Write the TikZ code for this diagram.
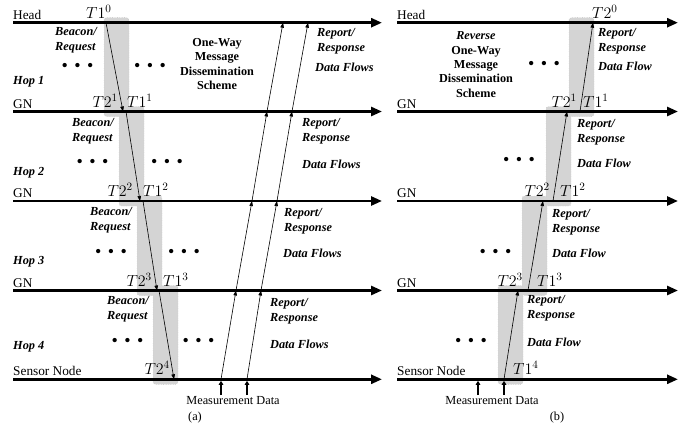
\documentclass[tikz,border=0pt]{standalone}
\usepackage{fix-cm}
\usepackage{fontspec}
\setmainfont{Liberation Serif}
\usetikzlibrary{arrows.meta}

\begin{document}
\begin{tikzpicture}[
  x=1pt, y=-1pt,
  timeline/.style={line width=2.6pt, -{Triangle[length=11pt,width=9pt]}},
  flow/.style={line width=0.6pt, -{Triangle[length=5pt,width=3.6pt]}},
  measure/.style={line width=1.5pt, shorten >=1.5pt, -{Triangle[length=4pt,width=4.5pt]}},
  window/.style={fill=black!17, draw=black!35, dotted, rounded corners=2.5pt},
  axislabel/.style={font=\fontsize{13.3}{15}\selectfont, inner sep=0pt, anchor=base west},
  caption/.style={font=\fontsize{12.3}{14}\selectfont, inner sep=0pt, anchor=base},
  msg/.style={font=\fontsize{12.3}{15}\selectfont\bfseries\itshape, align=left, inner sep=0pt, anchor=west},
  hop/.style={font=\fontsize{12.3}{15}\selectfont\bfseries\itshape, inner sep=0pt, anchor=west},
  scheme/.style={font=\fontsize{12.2}{14.3}\selectfont\bfseries, align=center, inner sep=0pt},
  stamp/.style={font=\fontsize{16}{16}\selectfont, inner sep=0pt},
  dots/.style={font=\fontsize{18}{18}\selectfont, inner sep=0pt}
]
\useasboundingbox (0,0) rectangle (699,428);

% shaded time windows, one per hop
\foreach \xa/\ya/\yb in {104/22.7/111.5, 119/111.5/201, 137/201/290.5, 153/290.5/379.3,
                         569/22.7/111.5, 546/111.5/201, 522/201/290.5, 498/290.5/379.3}
  \draw[window] (\xa,\ya-5) rectangle ++(25,\yb-\ya+10);
\foreach \xa/\ya/\yb in {104/22.7/111.5, 119/111.5/201, 137/201/290.5, 153/290.5/379.3,
                         569/22.7/111.5, 546/111.5/201, 522/201/290.5, 498/290.5/379.3}
  \fill[black!17, rounded corners=2.5pt] (\xa+0.4,\ya-4.6) rectangle ++(24.2,\yb-\ya+9.2);

% time lines
\foreach \i/\y/\name in {0/22.7/Head, 1/111.5/GN, 2/201/GN, 3/290.5/GN, 4/379.3/Sensor Node} {
  \coordinate (al\i) at (13,\y);
  \coordinate (ar\i) at (382,\y);
  \coordinate (bl\i) at (397,\y);
  \coordinate (br\i) at (678,\y);
  \draw[timeline] (al\i) -- (ar\i);
  \draw[timeline] (bl\i) -- (br\i);
  \node[axislabel] (aname\i) at (13,\y-3.5) {\name};
  \node[axislabel] (bname\i) at (397,\y-3.5) {\name};
}

% (a) beacon/request, head down to sensor node
\foreach \k/\ya/\yb/\xs/\xe in {1/22.7/111.5/106/123, 2/111.5/201/126/140,
                                3/201/290.5/143/157, 4/290.5/379.3/159/174} {
  \coordinate (reqs\k) at (\xs,\ya);
  \coordinate (reqe\k) at (\xe,\yb);
  \draw[flow] (reqs\k) -- (reqe\k);
}

% (a) report/response, sensor node up to head
\foreach \i/\y/\xa/\xb in {0/22.7/283/308, 1/111.5/267/292, 2/201/252/277,
                           3/290.5/236/261, 4/379.3/221/247} {
  \coordinate (fa\i) at (\xa,\y);
  \coordinate (fb\i) at (\xb,\y);
}
\foreach \i in {1,...,4} {
  \pgfmathtruncatemacro\j{\i-1}
  \draw[flow] (fa\i) -- (fa\j);
  \draw[flow] (fb\i) -- (fb\j);
}

% (b) reverse scheme
\foreach \k/\ya/\yb/\xs/\xe in {4/379.3/290.5/504/518, 3/290.5/201/528/543,
                                2/201/111.5/553/567, 1/111.5/22.7/580/593} {
  \coordinate (reps\k) at (\xs,\ya);
  \coordinate (repe\k) at (\xe,\yb);
  \draw[flow] (reps\k) -- (repe\k);
}

% measurement inputs
\coordinate (ma1) at (221,395);
\coordinate (ma2) at (247,395);
\coordinate (mb1) at (478,395);
\coordinate (mb2) at (504,395);
\coordinate (mbin) at (478,379.3);
\draw[measure] (ma1) -- (fa4);
\draw[measure] (ma2) -- (fb4);
\draw[measure] (mb1) -- (mbin);
\draw[measure] (mb2) -- (reps4);

% time stamps
\foreach \n/\a/\x/\y/\t in {ta10/west/86/18.2/1^{0}, ta21/east/118/107/2^{1}, ta11/west/127/107/1^{1},
    ta22/east/133/196.5/2^{2}, ta12/west/143/196.5/1^{2}, ta23/east/152/286/2^{3},
    ta13/west/163/286/1^{3}, ta24/east/170/374.8/2^{4},
    tb20/west/592/18.2/2^{0}, tb21/east/577/107/2^{1}, tb11/west/583/107/1^{1},
    tb22/east/550/196.5/2^{2}, tb12/west/560/196.5/1^{2}, tb23/east/523/286/2^{3},
    tb13/west/537/286/1^{3}, tb14/west/513/374.8/1^{4}}
  \node[stamp, anchor=base \a] (\n) at (\x,\y) {$T\t$};

% labels
\foreach \k/\y in {1/82, 2/173, 3/262, 4/347}
  \node[hop] (hop\k) at (13,\y) {Hop \k};
\foreach \k/\x/\y in {1/55/40.5, 2/72/131.5, 3/90/220, 4/107/309}
  \node[msg] (beacon\k) at (\x,\y) {Beacon/\\Request};
\foreach \k/\x/\y in {1/317/41.5, 2/302/131, 3/284/221, 4/270/311}
  \node[msg] (reporta\k) at (\x,\y) {Report/\\Response};
\foreach \k/\x/\y in {1/315/67, 2/302/164, 3/283/253, 4/270/344}
  \node[msg] (dataa\k) at (\x,\y) {Data Flows};
\foreach \k/\x/\y in {1/598/41.5, 2/577/132.5, 3/552/222, 4/527/308.5}
  \node[msg] (reportb\k) at (\x,\y) {Report/\\Response};
\foreach \k/\x/\y in {1/598/66, 2/577/163, 3/552/253, 4/527/342}
  \node[msg] (datab\k) at (\x,\y) {Data Flow};

\foreach \n/\x/\y in {dl1/77.5/67, dl2/92.5/163, dl3/111/253, dl4/127.5/342,
                      dr1/150/67, dr2/167/163, dr3/184/253, dr4/198.5/342,
                      db1/544/65, db2/519/161, db3/495.5/253, db4/471/342}
  \node[dots] (\n) at (\x,\y) {•\hspace{6.5pt}•\hspace{6.5pt}•};

\node[scheme] (schemea) at (217,64) {One-Way\\Message\\Dissemination\\Scheme};
\node[scheme] (schemeb) at (476,64.5) {{\itshape Reverse}\\One-Way\\Message\\Dissemination\\Scheme};

\node[caption] (measa) at (233,404) {Measurement Data};
\node[caption] (measb) at (492,404) {Measurement Data};
\node[caption] (capa) at (195,420) {(a)};
\node[caption] (capb) at (557,420) {(b)};

\end{tikzpicture}
\end{document}
